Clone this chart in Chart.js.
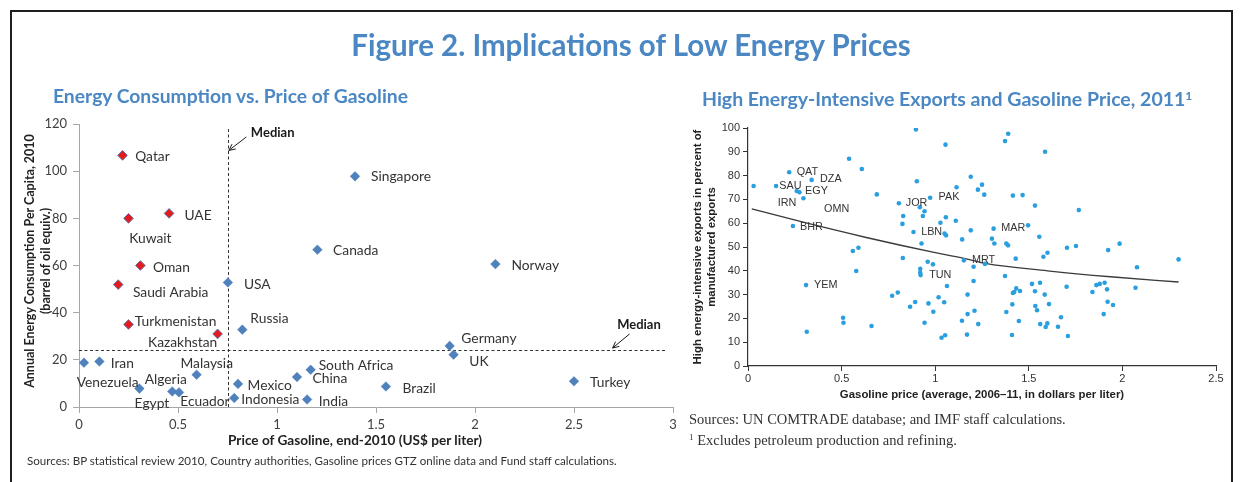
<!DOCTYPE html>
<html><head><meta charset="utf-8">
<script src="https://cdn.jsdelivr.net/npm/chart.js@4/dist/chart.umd.min.js"></script>
<style>
html,body{margin:0;padding:0;background:#fff;}
#wrap{position:relative;width:1244px;height:482px;overflow:hidden;}
.frame{position:absolute;left:10px;top:10px;width:1223px;height:520px;border:2px solid #1e1e1e;box-sizing:border-box;}
canvas{position:absolute;top:0;}
.t{position:absolute;white-space:nowrap;}
.rot{position:absolute;white-space:nowrap;transform:translate(-50%,-50%) rotate(-90deg);text-align:center;}
</style></head>
<body><div id="wrap">
<div class="frame"></div>
<canvas id="c1" width="700" height="482" style="left:0"></canvas>
<canvas id="c2" width="544" height="482" style="left:700px"></canvas>

<div class="t" style="left:0;width:1262px;top:27px;text-align:center;font:bold 29.5px Lato;color:#4a87c3;line-height:36px;">Figure 2. Implications of Low Energy Prices</div>
<div class="t" style="left:53px;top:84px;font:bold 19.3px Lato;color:#4a87c3;line-height:24px;">Energy Consumption vs. Price of Gasoline</div>
<div class="t" style="left:702px;top:84px;font:bold 19.5px Lato;color:#4a87c3;line-height:24px;">High Energy-Intensive Exports and Gasoline Price, 2011<sup style="font-size:12px;vertical-align:6px;">1</sup></div>

<div class="rot" style="left:29px;top:261px;font:bold 12.5px Lato;color:#222;">Annual Energy Consumption Per Capita, 2010</div>
<div class="rot" style="left:45px;top:261px;font:bold 12.5px Lato;color:#222;">(barrel of oil equiv.)</div>
<div class="t" style="left:0;width:710px;top:431px;text-align:center;font:bold 13.6px Lato;color:#222;line-height:18px;">Price of Gasoline, end-2010 (US$ per liter)</div>
<div class="t" style="left:27px;top:453px;font:11.6px Lato;color:#333;line-height:16px;">Sources: BP statistical review 2010, Country authorities, Gasoline prices GTZ online data and Fund staff calculations.</div>

<div class="rot" style="left:697px;top:247px;font:bold 11.4px 'Liberation Sans';color:#222;">High energy-intensive exports in percent of</div>
<div class="rot" style="left:711px;top:247px;font:bold 11.4px 'Liberation Sans';color:#222;">manufactured exports</div>
<div class="t" style="left:0;width:1964px;top:387px;text-align:center;font:bold 11.4px 'Liberation Sans';color:#222;line-height:15px;">Gasoline price (average, 2006–11, in dollars per liter)</div>
<div class="t" style="left:689px;top:410px;font:14.5px 'Liberation Serif';color:#333;line-height:19px;">Sources: UN COMTRADE database; and IMF staff calculations.</div>
<div class="t" style="left:689px;top:428px;font:14.5px 'Liberation Serif';color:#333;line-height:19px;"><sup style="font-size:9px;vertical-align:5px;">1</sup> Excludes petroleum production and refining.</div>
</div>
<script>
// ---------- Left chart data ----------
const countries = ['Qatar','Kuwait','UAE','Oman','Saudi Arabia','Turkmenistan','Kazakhstan','Singapore','Canada','USA','Russia','Norway','Venezuela','Iran','Malaysia','Algeria','Egypt','Ecuador','Mexico','Indonesia','China','South Africa','India','Brazil','Germany','UK','Turkey'];
const gasolinePrice = [0.22,0.25,0.455,0.31,0.198,0.25,0.70,1.394,1.204,0.752,0.825,2.103,0.025,0.103,0.594,0.305,0.471,0.505,0.803,0.784,1.101,1.17,1.152,1.55,1.872,1.892,2.5];
const energyPerCapita = [106.7,80,82.1,60,51.9,35,31,97.8,66.7,52.8,32.8,60.6,18.8,19.3,13.7,7.8,6.6,6.2,9.8,3.8,12.7,15.8,3.2,8.7,25.9,22.2,10.9];
const oilExporters = ['Qatar','Kuwait','UAE','Oman','Saudi Arabia','Turkmenistan','Kazakhstan'];
const medianPrice = 0.75;
const medianEnergy = 24;
const xTicksLeft = [0,0.5,1,1.5,2,2.5,3];
const yTicksLeft = [0,20,40,60,80,100,120];

// ---------- Right chart data ----------
const avgGasPrice = [0.03,0.15,0.22,0.26,0.275,0.34,0.296,0.24,0.54,0.608,0.56,0.59,0.578,0.31,0.508,0.51,0.314,0.66,0.77,0.80,0.866,0.893,0.964,0.99,0.943,1.018,1.048,1.034,1.053,1.063,1.17,1.143,1.173,1.21,1.23,1.173,1.205,1.205,0.92,0.92,0.922,0.96,0.988,0.897,1.055,0.902,0.688,0.806,0.918,0.943,0.934,0.973,0.829,0.825,0.884,1.114,1.19,1.25,1.228,1.262,1.057,1.028,1.11,1.05,1.058,1.19,1.144,0.927,0.827,1.153,1.266,1.39,1.373,1.587,1.415,1.467,1.533,1.767,1.312,1.496,1.303,1.316,1.38,1.389,1.556,1.43,1.578,1.60,1.704,1.752,1.924,1.373,1.433,1.415,1.422,1.453,1.517,1.56,1.533,1.585,1.608,1.702,1.412,1.38,1.447,1.535,1.544,1.561,1.599,1.59,1.672,1.656,1.41,1.709,1.861,1.879,1.905,1.84,1.918,1.921,1.90,1.985,2.078,2.30,2.07,1.95];
const energyIntensiveShare = [75.6,75.6,81.4,73.5,73.0,78.2,70.5,58.8,87.1,82.8,48.3,49.7,39.9,34.0,20.3,18.2,14.4,16.8,29.5,30.9,24.9,26.9,26.3,22.8,18.2,28.9,26.8,11.9,12.9,33.6,13.2,19.0,21.8,23.2,17.6,30.0,35.7,41.7,40.8,39.2,38.2,43.8,42.7,99.4,93.0,77.6,72.1,68.4,66.7,65.0,63.0,70.7,63.0,59.7,56.3,75.1,79.5,76.2,74.1,72.0,62.5,60.2,61.0,55.7,54.9,57.0,53.2,51.5,45.4,44.4,42.9,97.6,94.5,90.0,71.6,71.8,67.4,65.5,57.7,59.1,53.5,51.5,51.5,50.7,54.3,45.1,45.9,47.6,49.7,50.4,48.7,37.8,32.6,30.7,31.1,31.5,34.5,35.0,31.4,30.0,26.0,33.3,25.9,22.7,18.9,25.2,23.4,17.6,17.9,16.4,20.5,16.5,13.0,12.6,34.0,34.5,35.0,31.1,32.2,27.0,21.8,51.4,41.5,44.8,32.9,25.6];
const trendX = [0.02,0.3,0.626,1.0,1.178,1.267,1.6,1.936,2.3];
const trendY = [66,60.3,54.1,47.6,44.8,43.1,40.0,37.5,35.3];
const countryCodes = ['QAT','DZA','SAU','EGY','IRN','OMN','BHR','YEM','JOR','PAK','LBN','TUN','MRT','MAR'];
const codeX = [0.26,0.385,0.167,0.305,0.159,0.406,0.278,0.353,0.843,1.018,0.925,0.968,1.196,1.353];
const codeY = [82.0,79.1,76.0,74.1,69.0,66.5,58.9,34.4,68.9,71.3,56.9,38.8,45.0,58.5];

// ---------- Label placement (pixel offsets from each point) ----------
const labelOffsets = {
  'Qatar':[12.7,1,'left'],'Kuwait':[0.7,20.6,'left'],'UAE':[15.3,2,'left'],'Oman':[12.7,1.6,'left'],
  'Saudi Arabia':[14.7,7.7,'left'],'Turkmenistan':[6.3,-3,'left'],'Kazakhstan':[-0.3,9,'right'],
  'Singapore':[16,0.6,'left'],'Canada':[15.7,0.7,'left'],'USA':[16,2,'left'],'Russia':[8,-10.7,'left'],
  'Norway':[16,1.4,'left'],'Venezuela':[54.6,20.3,'right'],'Iran':[11.3,1.6,'left'],'Malaysia':[36.4,-10.7,'right'],
  'Algeria':[5.3,-9,'left'],'Egypt':[-3,12.3,'right'],'Ecuador':[1.3,9,'left'],'Mexico':[9.6,1.4,'left'],
  'Indonesia':[7,1.7,'left'],'China':[15.6,1.4,'left'],'South Africa':[8,-4,'left'],'India':[11.6,2,'left'],
  'Brazil':[16.6,1.6,'left'],'Germany':[11.7,-7.6,'left'],'UK':[15.7,7,'left'],'Turkey':[16,1.6,'left']
};

function arrow(ctx, x1, y1, x2, y2) {
  ctx.beginPath(); ctx.moveTo(x1, y1); ctx.lineTo(x2, y2); ctx.stroke();
  const a = Math.atan2(y2 - y1, x2 - x1), L = 7, s = 0.45;
  ctx.beginPath();
  ctx.moveTo(x2 - L*Math.cos(a - s), y2 - L*Math.sin(a - s));
  ctx.lineTo(x2, y2);
  ctx.lineTo(x2 - L*Math.cos(a + s), y2 - L*Math.sin(a + s));
  ctx.stroke();
}

const leftAnno = {
  id: 'leftAnno',
  beforeDatasetsDraw(chart) {
    const {ctx, scales:{x, y}} = chart;
    ctx.save();
    ctx.strokeStyle = '#333'; ctx.lineWidth = 1; ctx.setLineDash([3,2.5]);
    const vx = Math.round(x.getPixelForValue(medianPrice)) + 0.5;
    ctx.beginPath(); ctx.moveTo(vx, y.getPixelForValue(0)); ctx.lineTo(vx, y.getPixelForValue(118)); ctx.stroke();
    const hy = Math.round(y.getPixelForValue(medianEnergy)) + 0.5;
    ctx.beginPath(); ctx.moveTo(x.getPixelForValue(0), hy); ctx.lineTo(x.getPixelForValue(2.96), hy); ctx.stroke();
    ctx.restore();
  },
  afterDatasetsDraw(chart) {
    const {ctx, scales:{x, y}} = chart;
    ctx.save();
    ctx.font = '13.8px Lato'; ctx.fillStyle = '#333'; ctx.textBaseline = 'middle';
    countries.forEach((c, i) => {
      const o = labelOffsets[c];
      ctx.textAlign = o[2];
      ctx.fillText(c, x.getPixelForValue(gasolinePrice[i]) + o[0], y.getPixelForValue(energyPerCapita[i]) + o[1]);
    });
    ctx.font = 'bold 13px Lato'; ctx.fillStyle = '#1a1a1a'; ctx.textAlign = 'left';
    ctx.fillText('Median', x.getPixelForValue(0.868), y.getPixelForValue(116.4));
    ctx.fillText('Median', x.getPixelForValue(2.718), y.getPixelForValue(34.9));
    ctx.strokeStyle = '#1a1a1a'; ctx.lineWidth = 1;
    arrow(ctx, x.getPixelForValue(0.845), y.getPixelForValue(114.5), x.getPixelForValue(0.757), y.getPixelForValue(108.8));
    arrow(ctx, x.getPixelForValue(2.781), y.getPixelForValue(31), x.getPixelForValue(2.695), y.getPixelForValue(25));
    ctx.restore();
  }
};

const rightAnno = {
  id: 'rightAnno',
  afterDatasetsDraw(chart) {
    const {ctx, scales:{x, y}} = chart;
    ctx.save();
    ctx.font = '10.8px "Liberation Sans"'; ctx.fillStyle = '#333'; ctx.textBaseline = 'middle'; ctx.textAlign = 'left';
    countryCodes.forEach((c, i) => ctx.fillText(c, x.getPixelForValue(codeX[i]), y.getPixelForValue(codeY[i]) + 1));
    ctx.restore();
  }
};

const fmt = v => String(+Number(v).toFixed(2));

const blue = [], red = [];
countries.forEach((c, i) => (oilExporters.includes(c) ? red : blue).push({x: gasolinePrice[i], y: energyPerCapita[i]}));

new Chart(document.getElementById('c1'), {
  type: 'scatter',
  data: { datasets: [
    { data: blue, pointStyle: 'rectRot', pointRadius: 4.8, backgroundColor: '#4f81bd', borderColor: '#4a7ab5', borderWidth: 0.5 },
    { data: red, pointStyle: 'rectRot', pointRadius: 4.8, backgroundColor: '#e41a1c', borderColor: '#5a6fa8', borderWidth: 1 }
  ]},
  options: {
    responsive: false, animation: false, events: [],
    layout: { padding: { left: 0, right: 27, top: 124, bottom: 45 } },
    plugins: { legend: { display: false }, tooltip: { enabled: false } },
    scales: {
      x: { type: 'linear', min: xTicksLeft[0], max: xTicksLeft[xTicksLeft.length-1],
           afterBuildTicks: s => { s.ticks = xTicksLeft.map(v => ({value: v})); },
           ticks: { color: '#404040', font: { family: 'Lato', size: 13 }, padding: 4, callback: fmt, maxRotation: 0 },
           grid: { drawOnChartArea: false, tickLength: 6, color: '#a6a6a6' }, border: { color: '#a6a6a6' },
           afterFit: s => { s.height = 30; } },
      y: { min: yTicksLeft[0], max: yTicksLeft[yTicksLeft.length-1],
           afterBuildTicks: s => { s.ticks = yTicksLeft.map(v => ({value: v})); },
           ticks: { color: '#404040', font: { family: 'Lato', size: 13 }, padding: 6 },
           grid: { drawOnChartArea: false, tickLength: 6, color: '#a6a6a6' }, border: { color: '#a6a6a6' },
           afterFit: s => { s.width = 79; } }
    }
  },
  plugins: [leftAnno]
});

const dots = avgGasPrice.map((v, i) => ({x: v, y: energyIntensiveShare[i]}));
const trend = trendX.map((v, i) => ({x: v, y: trendY[i]}));

new Chart(document.getElementById('c2'), {
  type: 'scatter',
  data: { datasets: [
    { data: dots, pointRadius: 2.3, pointStyle: 'circle', backgroundColor: '#2a9fe0', borderWidth: 0 },
    { data: trend, showLine: true, pointRadius: 0, borderColor: '#3a3a3a', borderWidth: 1.3, cubicInterpolationMode: 'monotone', fill: false }
  ]},
  options: {
    responsive: false, animation: false, events: [],
    layout: { padding: { left: 0, right: 28, top: 128, bottom: 86 } },
    plugins: { legend: { display: false }, tooltip: { enabled: false } },
    scales: {
      x: { type: 'linear', min: 0, max: 2.5,
           ticks: { stepSize: 0.5, color: '#333', font: { family: 'Liberation Sans', size: 11 }, padding: 1, callback: fmt, maxRotation: 0 },
           grid: { drawOnChartArea: false, tickLength: 5, color: '#333' }, border: { color: '#333', width: 1.2 },
           afterFit: s => { s.height = 30; } },
      y: { min: 0, max: 100,
           ticks: { stepSize: 10, color: '#333', font: { family: 'Liberation Sans', size: 11 }, padding: 3 },
           grid: { drawOnChartArea: false, tickLength: 5, color: '#333' }, border: { color: '#333', width: 1.2 },
           afterFit: s => { s.width = 48; } }
    }
  },
  plugins: [rightAnno]
});
</script>
</body></html>
